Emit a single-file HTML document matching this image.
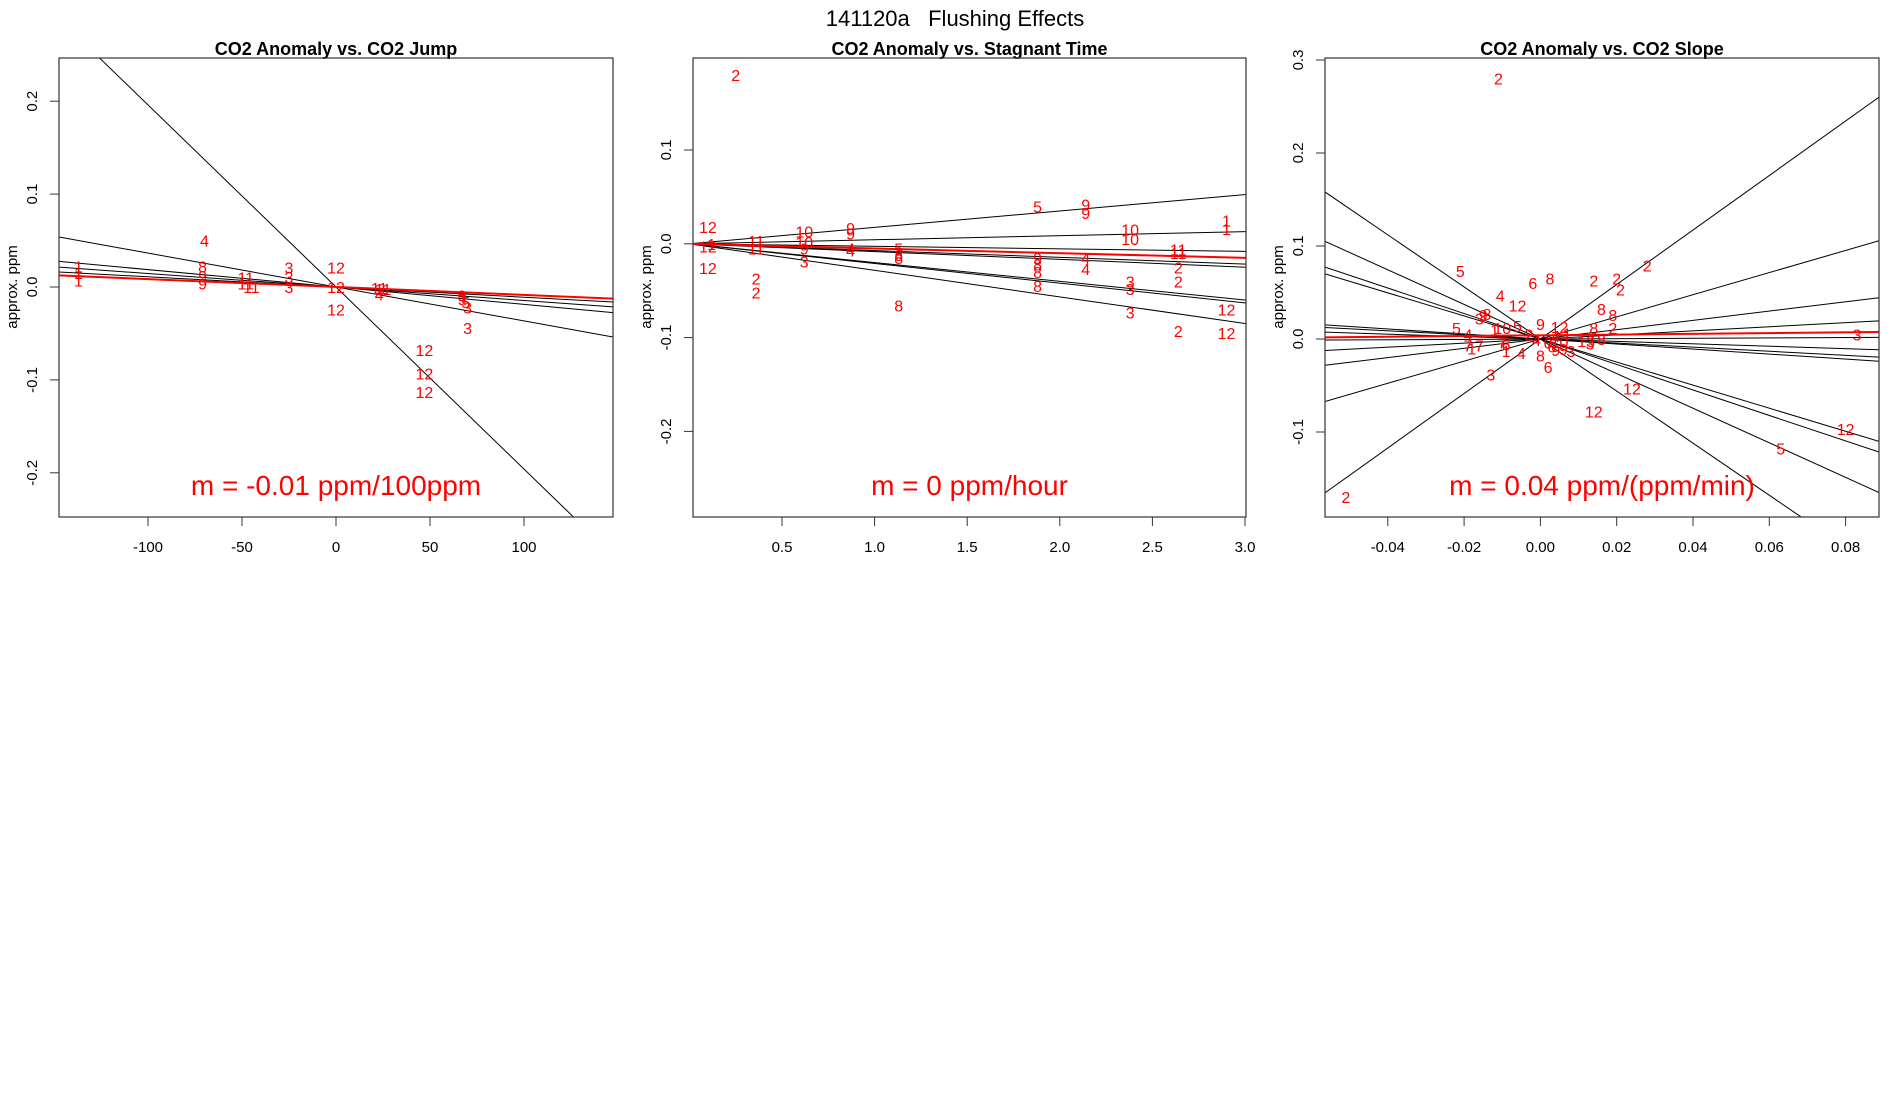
<!DOCTYPE html>
<html><head><meta charset="utf-8"><style>
html,body{margin:0;padding:0;background:#fff;width:1900px;height:1100px;overflow:hidden}
svg{display:block;font-family:"Liberation Sans",sans-serif}
</style></head><body>
<svg id="s" width="1900" height="1100">
<text x="955" y="26" text-anchor="middle" font-size="22">141120a&#160;&#160;&#160;Flushing Effects</text>
</svg>
<script>
// Panel 1: CO2 Jump
const p1XTicks=[-100,-50,0,50,100];
const p1YTicks=[-0.2,-0.1,0.0,0.1,0.2];
const p1Slopes=[-0.00196,-0.000365,-0.000187,-0.000145,-0.00011];
const p1RedSlope=-0.000085;
const p1Labels=["4","8","9","9","1","1","1","3","3","3","11","11","11","12","12","12","11","4","11","9","9","5","3","3","12","12","12"];
const p1X=[-70,-71,-71,-71,-137,-137,-137,-25,-25,-25,-48,-48,-45,0,0,0,23,23,25,67,67,69,70,70,47,47,47];
const p1Y=[0.05,0.022,0.012,0.004,0.022,0.015,0.007,0.021,0.011,0.0,0.01,0.004,0.0,0.021,0.0,-0.024,-0.001,-0.008,-0.002,-0.009,-0.013,-0.016,-0.022,-0.044,-0.068,-0.093,-0.113];
// Panel 2: Stagnant time
const p2XTicks=[0.5,1.0,1.5,2.0,2.5,3.0];
const p2YTicks=[-0.2,-0.1,0.0,0.1];
const p2Slopes=[0.0175,0.0043,-0.0027,-0.0072,-0.0083,-0.02,-0.021,-0.0283];
const p2RedSlope=-0.005;
const p2Labels=["2","12","1","12","12","11","11","2","2","10","10","9","3","9","9","4","4","5","8","8","8","5","9","8","8","8","9","9","4","4","10","10","3","3","3","11","11","2","2","2","1","1","12","12"];
const p2X=[0.25,0.1,0.12,0.1,0.1,0.36,0.36,0.36,0.36,0.62,0.62,0.62,0.62,0.87,0.87,0.87,0.87,1.13,1.13,1.13,1.13,1.88,1.88,1.88,1.88,1.88,2.14,2.14,2.14,2.14,2.38,2.38,2.38,2.38,2.38,2.64,2.64,2.64,2.64,2.64,2.9,2.9,2.9,2.9];
const p2Y=[0.18,0.018,0.0,-0.003,-0.026,0.003,-0.005,-0.037,-0.052,0.013,0.002,-0.005,-0.019,0.017,0.011,-0.005,-0.007,-0.005,-0.012,-0.015,-0.066,0.04,-0.015,-0.022,-0.03,-0.045,0.042,0.033,-0.015,-0.027,0.015,0.005,-0.04,-0.048,-0.073,-0.006,-0.01,-0.025,-0.04,-0.093,0.025,0.016,-0.07,-0.095];
// Panel 3: CO2 Slope
const p3XTicks=[-0.04,-0.02,0.00,0.02,0.04,0.06,0.08];
const p3YTicks=[-0.1,0.0,0.1,0.2,0.3];
const p3Slopes=[2.93,1.19,0.5,0.22,0.02,-0.13,-0.22,-0.27,-1.24,-1.37,-1.86,-2.8];
const p3RedSlope=0.04;
const p3RedIntercept=0.004;
const p3Labels=["2","2","5","6","8","4","12","2","2","2","2","8","8","8","2","3","12","12","12","5","3","5","9","8","3","4","7","1","7","1","10","5","6","7","1","4","9","12","4","1","8","6","9","3","13","3","8","2","0","6","4","10","9"];
const p3X=[-0.011,-0.051,-0.021,-0.002,0.0025,-0.0105,-0.006,0.014,0.02,0.021,0.028,0.016,0.019,0.014,0.019,0.083,0.024,0.014,0.08,0.063,-0.013,-0.022,-0.015,-0.014,-0.016,-0.019,-0.019,-0.018,-0.016,-0.012,-0.01,-0.006,-0.009,-0.01,-0.009,-0.005,0.0,0.005,0.004,0.007,0.0,0.002,0.004,0.008,0.012,0.013,0.016,-0.003,0.002,0.003,-0.001,0.005,0.006];
const p3Y=[0.28,-0.17,0.073,0.06,0.065,0.047,0.036,0.063,0.065,0.053,0.079,0.032,0.026,0.012,0.012,0.005,-0.053,-0.078,-0.097,-0.118,-0.038,0.012,0.026,0.027,0.022,0.005,-0.007,-0.01,-0.007,0.01,0.012,0.014,-0.006,-0.004,-0.013,-0.015,0.016,0.013,0.003,0.006,-0.018,-0.03,-0.012,-0.013,-0.002,-0.005,0.0,0.005,-0.004,-0.008,-0.001,-0.003,-0.011];

const NS="http://www.w3.org/2000/svg";
const svg=document.getElementById('s');
function mk(tag,attrs,parent){const e=document.createElementNS(NS,tag);for(const k in attrs)e.setAttribute(k,attrs[k]);(parent||svg).appendChild(e);return e;}

function panel(cfg){
  const g=mk('g',{});
  
  
  const L=cfg.left,R=cfg.right,T=58,B=517;
  const sx=v=>cfg.x0+(v-cfg.xv0)*cfg.xs;
  const sy=v=>cfg.y0-v*cfg.ys;
  const xmin=(L-cfg.x0)/cfg.xs+cfg.xv0, xmax=(R-cfg.x0)/cfg.xs+cfg.xv0;
  const cp='clip'+cfg.name;
  const d=mk('clipPath',{id:cp},g);mk('rect',{x:L,y:T,width:R-L,height:B-T},d);
  const t=mk('text',{x:(L+R)/2,y:55,'text-anchor':'middle','font-size':18,'font-weight':'bold'},g);
  t.textContent=cfg.title;
  
  
  const lg=mk('g',{'clip-path':'url(#'+cp+')'},g);
  cfg.slopes.forEach(s=>{
    const ln=mk('line',{x1:sx(xmin),y1:sy(s*xmin),x2:sx(xmax),y2:sy(s*xmax),stroke:'#000','stroke-width':1},lg);
    
    
  });
  const ri=cfg.redInt||0;
  const rl=mk('line',{x1:sx(xmin),y1:sy(ri+cfg.red*xmin),x2:sx(xmax),y2:sy(ri+cfg.red*xmax),stroke:'#f00','stroke-width':2},lg);
  
  
  cfg.labels.forEach((lab,i)=>{
    const p=mk('text',{x:sx(cfg.xs_[i]),y:sy(cfg.ys_[i])+6,'text-anchor':'middle','font-size':16,fill:'#f00'},lg);
    p.textContent=lab;
    
    
  });
  const box=mk('rect',{x:L,y:T,width:R-L,height:B-T,fill:'none',stroke:'#333','stroke-width':1.2},g);
  
  
  cfg.xt.forEach(v=>{
    mk('line',{x1:sx(v),y1:B,x2:sx(v),y2:B+9,stroke:'#333'},g);
    const tl=mk('text',{x:sx(v),y:552,'text-anchor':'middle','font-size':15},g);
    tl.textContent=cfg.xfmt(v);
    
    
  });
  cfg.yt.forEach(v=>{
    mk('line',{x1:L-9,y1:sy(v),x2:L,y2:sy(v),stroke:'#333'},g);
    const tl=mk('text',{x:0,y:0,'text-anchor':'middle','font-size':15,transform:'translate('+(L-22)+','+sy(v)+') rotate(-90)'},g);
    tl.textContent=v.toFixed(1);
    
    
  });
  const ya=mk('text',{x:0,y:0,'text-anchor':'middle','font-size':15,transform:'translate('+(L-42)+',287) rotate(-90)'},g);
  ya.textContent='approx. ppm';
  
  
  const an=mk('text',{x:(L+R)/2,y:495,'text-anchor':'middle','font-size':28,fill:'#f00'},g);
  an.textContent=cfg.ann;
  
  
}
panel({name:'panel-co2-jump',title:'CO2 Anomaly vs. CO2 Jump',left:59,right:613,x0:336,xv0:0,xs:1.88,y0:287,ys:929,
  xt:p1XTicks,yt:p1YTicks,slopes:p1Slopes,red:p1RedSlope,labels:p1Labels,xs_:p1X,ys_:p1Y,xfmt:v=>String(v),ann:'m = -0.01 ppm/100ppm'});
panel({name:'panel-stagnant-time',title:'CO2 Anomaly vs. Stagnant Time',left:693,right:1246,x0:782,xv0:0.5,xs:185.2,y0:243.8,ys:938,
  xt:p2XTicks,yt:p2YTicks,slopes:p2Slopes,red:p2RedSlope,labels:p2Labels,xs_:p2X,ys_:p2Y,xfmt:v=>v.toFixed(1),ann:'m = 0 ppm/hour'});
panel({name:'panel-co2-slope',title:'CO2 Anomaly vs. CO2 Slope',left:1325,right:1879,x0:1540.4,xv0:0,xs:3815,y0:339,ys:930,
  xt:p3XTicks,yt:p3YTicks,slopes:p3Slopes,red:p3RedSlope,redInt:p3RedIntercept,labels:p3Labels,xs_:p3X,ys_:p3Y,xfmt:v=>v.toFixed(2),ann:'m = 0.04 ppm/(ppm/min)'});
</script>
</body></html>
